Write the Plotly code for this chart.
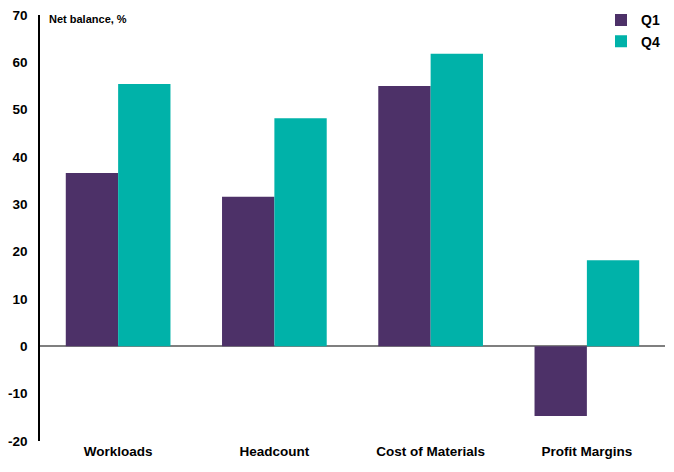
import plotly.graph_objects as go

categories = ["Workloads", "Headcount", "Cost of Materials", "Profit Margins"]
q1 = [36.6, 31.6, 55.0, -14.7]
q4 = [55.4, 48.2, 61.8, 18.2]
y_ticks = [-20, -10, 0, 10, 20, 30, 40, 50, 60, 70]
y_tick_labels = [str(v) for v in y_ticks]

purple = "#4d3168"
teal = "#00b2a9"
font_fam = "Liberation Sans, Arial, sans-serif"

fig = go.Figure()
fig.add_trace(go.Bar(name="Q1", x=categories, y=q1, marker=dict(color=purple, line=dict(width=0))))
fig.add_trace(go.Bar(name="Q4", x=categories, y=q4, marker=dict(color=teal, line=dict(width=0))))

fig.update_layout(
    width=674, height=472,
    margin=dict(l=40, r=9, t=15, b=31, autoexpand=False),
    paper_bgcolor="white", plot_bgcolor="white",
    barmode="group", bargap=0.33, bargroupgap=0,
    font=dict(family=font_fam, size=13, color="black"),
    legend=dict(x=1.0, y=1.025, xanchor="right", yanchor="top",
                font=dict(family=font_fam, size=14, color="black", weight="bold"),
                itemwidth=30, tracegroupgap=2, bgcolor="rgba(0,0,0,0)"),
    showlegend=True,
)
fig.update_yaxes(range=[-20, 70], tickvals=y_ticks, ticktext=y_tick_labels,
                 showgrid=False, zeroline=True,
                 zerolinecolor="#7f7f7f", zerolinewidth=1.5,
                 showline=True, linecolor="black", linewidth=1.5,
                 ticks="outside", ticklen=8, tickcolor="white",
                 tickfont=dict(family=font_fam, size=13.5, weight="bold"))
fig.update_xaxes(showgrid=False, showline=False, ticks="",
                 tickfont=dict(family=font_fam, size=13.5, weight="bold"))
fig.add_annotation(text="Net balance, %", xref="paper", yref="paper", x=0.011, y=0.99,
                   xanchor="left", yanchor="middle", showarrow=False,
                   font=dict(family=font_fam, size=11, color="black", weight="bold"))

fig.write_html("out.html")
